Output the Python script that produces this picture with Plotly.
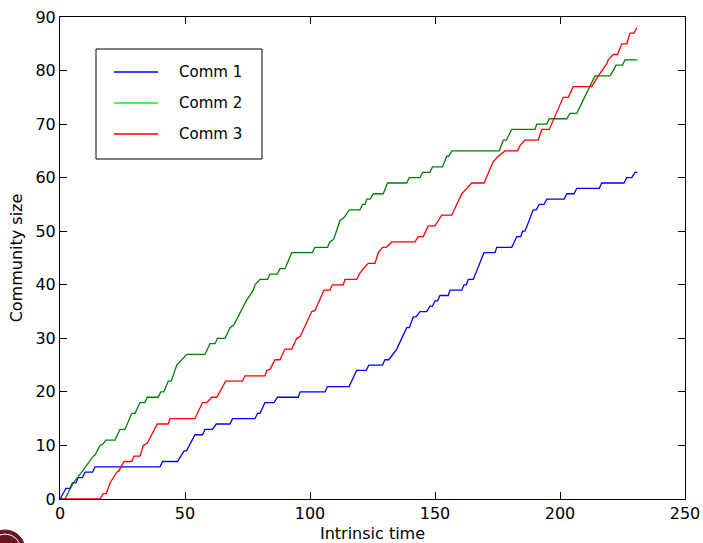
import plotly.graph_objects as go

# ---------------- data ----------------
comm1_x = [0, 1.3, 2.4, 4, 5, 6.4, 7.3, 9, 10, 13, 14, 40, 41, 47, 48.3, 49.6, 50.6, 54, 57, 58, 61, 62.5,
           68, 69, 78, 79, 80, 82, 85.6, 87, 95.3, 96, 106, 107, 115.6, 118.7, 122.5, 123.5, 129, 130, 131.5,
           134.7, 138.7, 139.7, 141.3, 142.4, 144, 146.7, 148, 149, 150, 151, 152, 155.3, 156, 160.7, 161.6,
           162.5, 163.3, 165.3, 169.6, 174, 174.7, 180.7, 182.7, 184.3, 185, 186, 189.3, 190.5, 191.7, 193.6,
           194.7, 201.7, 202.7, 205.6, 206.7, 215.7, 216.7, 225.6, 226.7, 228.7, 230, 231]
comm1_y = [0, 1, 2, 2, 3, 3, 4, 4, 5, 5, 6, 6, 7, 7, 8, 9, 9, 12, 12, 13, 13, 14,
           14, 15, 15, 16, 16, 18, 18, 19, 19, 20, 20, 21, 21, 24, 24, 25, 25, 26, 26,
           28, 32, 32, 34, 34, 35, 35, 36, 36, 37, 37, 38, 38, 39, 39, 40,
           40, 41, 41, 46, 46, 47, 47, 49, 49, 50, 50, 54, 54, 55, 55,
           56, 56, 57, 57, 58, 58, 59, 59, 60, 60, 61, 61]

comm2_x = [0, 2, 5.3, 8.7, 13.3, 14, 16, 17, 18.4, 22, 24, 26, 28.7, 30, 32, 34, 34.9, 39.3, 40.3, 41.5,
           43.3, 44.5, 46.7, 48.7, 50.7, 58, 60, 62, 63, 66, 68, 69.5, 73.3, 74.5, 77.3, 78, 80, 83, 84, 86.9,
           88, 90, 92.7, 100.9, 102, 107, 108, 109.5, 112, 113.5, 115.7, 120, 121, 122, 122.7, 124, 125.3,
           129.3, 131, 138.7, 139.7, 144, 145, 148, 149, 153, 154.7, 155.5, 156.7, 175.7, 177.3, 178.5,
           180.7, 190, 190.7, 194.7, 195.7, 202.7, 204, 206.7, 214, 220, 221.3, 222.4, 225, 226, 231]
comm2_y = [0, 0, 3, 5, 8, 8.2, 10, 10.2, 11, 11, 13, 13, 16, 16, 18, 18, 19, 19, 20, 20,
           22, 22, 25, 26, 27, 27, 29, 29, 30, 30, 32, 32.5, 36, 37, 39, 40, 41, 41, 42, 42,
           43, 43, 46, 46, 47, 47, 48, 48.5, 52, 52.5, 54, 54, 55, 55, 56, 56, 57,
           57, 59, 59, 60, 60, 61, 61, 62, 62, 64, 64, 65, 65, 67, 67,
           69, 69, 70, 70, 71, 71, 72, 72, 79, 79, 80, 81, 81, 82, 82]

comm3_x = [0, 16, 17.3, 18.5, 20, 22.7, 23.5, 25.6, 28.7, 29.6, 32, 33.3, 35, 38.9, 43.3, 44, 54, 57, 58.7,
           60.7, 62.7, 66.3, 73, 74, 82, 82.7, 84, 86, 88, 90, 92.7, 94.7, 96, 100.7, 102, 105.6, 108, 109,
           113.3, 114, 118.7, 119.7, 121.3, 123.3, 126, 127.3, 129, 130.5, 132.7, 142, 143.3, 145.3, 147.3,
           150, 151.3, 152.7, 156.7, 160.7, 162.7, 164.7, 169.6, 173.3, 175.3, 178, 183, 184, 186, 191.3,
           192.7, 195.7, 201.3, 203.3, 205.3, 212.7, 215.3, 218.7, 219.3, 221.3, 223, 224.7, 226.7, 228,
           229.6, 230.7]
comm3_y = [0, 0, 1, 1, 3, 5, 5.2, 7, 7, 8, 8, 10, 10.5, 14, 14, 15, 15, 18, 18,
           19, 19, 22, 22, 23, 23, 24, 24.2, 26, 26, 28, 28, 30, 30.3, 35, 35.2, 39, 39, 40,
           40, 41, 41, 42, 43, 44, 44, 46, 47, 47, 48, 48, 49, 49, 51,
           51, 52, 53, 53, 57, 58, 59, 59, 63, 64, 65, 65, 66, 67, 67,
           69, 69, 75, 75, 77, 77, 79, 81.3, 82, 83, 83, 85, 85, 87,
           87, 88]

series_names = ["Comm 1", "Comm 2", "Comm 3"]
line_colors = ["#0000ff", "#008000", "#ff0000"]
legend_colors = ["#0000ff", "#00ff00", "#ff0000"]

x_ticks = [0, 50, 100, 150, 200, 250]
y_ticks = [0, 10, 20, 30, 40, 50, 60, 70, 80, 90]

# ---------------- figure ----------------
W, H = 703, 543
L, R, T, B = 60, 18, 17, 44
PW, PH = W - L - R, H - T - B

def px(xp):
    return (xp - L) / PW

def py(yp):
    return (H - B - yp) / PH

FONT = "DejaVu Sans"

fig = go.Figure()
for xs, ys, name, col in zip([comm1_x, comm2_x, comm3_x], [comm1_y, comm2_y, comm3_y],
                             series_names, line_colors):
    fig.add_trace(go.Scatter(x=xs, y=ys, mode="lines", name=name,
                             line=dict(color=col, width=1.3), showlegend=False))

axis_common = dict(showgrid=False, zeroline=False, showline=True, linecolor="black", linewidth=1,
                   mirror="allticks", ticks="inside", ticklen=7, tickwidth=1, tickcolor="black",
                   tickfont=dict(family=FONT, size=16, color="black"))

fig.update_layout(
    width=W, height=H,
    margin=dict(l=L, r=R, t=T, b=B, autoexpand=False),
    paper_bgcolor="white", plot_bgcolor="white",
    font=dict(family=FONT, size=16, color="black"),
    xaxis=dict(range=[0, 250], tickvals=x_ticks, ticktext=[str(v) for v in x_ticks],
               title=dict(text="Intrinsic time", font=dict(family=FONT, size=16), standoff=7),
               **axis_common),
    yaxis=dict(range=[0, 90], tickvals=y_ticks, ticktext=[str(v) for v in y_ticks],
               title=dict(text="Community size", font=dict(family=FONT, size=16), standoff=8),
               **axis_common),
    showlegend=False,
)

# legend box drawn manually (matches matplotlib legend geometry)
shapes = [dict(type="rect", xref="paper", yref="paper", x0=px(96), x1=px(262), y0=py(159), y1=py(49),
               line=dict(color="black", width=1), fillcolor="white", layer="above")]
row_y = [72, 103, 134]
annotations = []
for name, col, ry in zip(series_names, legend_colors, row_y):
    shapes.append(dict(type="line", xref="paper", yref="paper", x0=px(114), x1=px(158),
                       y0=py(ry), y1=py(ry), line=dict(color=col, width=1.3), layer="above"))
    annotations.append(dict(xref="paper", yref="paper", x=px(177), y=py(ry), text=name,
                            showarrow=False, xanchor="left", yanchor="middle",
                            font=dict(family=FONT, size=15, color="black")))

# small logo fragment at the bottom-left corner
shapes.append(dict(type="circle", xref="paper", yref="paper", x0=px(-15), x1=px(25), y0=py(570), y1=py(530),
                   fillcolor="#6b1524", line=dict(color="#6b1524", width=1), layer="above"))
shapes.append(dict(type="circle", xref="paper", yref="paper", x0=px(-11), x1=px(21), y0=py(566), y1=py(534),
                   fillcolor="rgba(0,0,0,0)", line=dict(color="white", width=1), layer="above"))

fig.update_layout(shapes=shapes, annotations=annotations)

fig.write_html("out.html")
